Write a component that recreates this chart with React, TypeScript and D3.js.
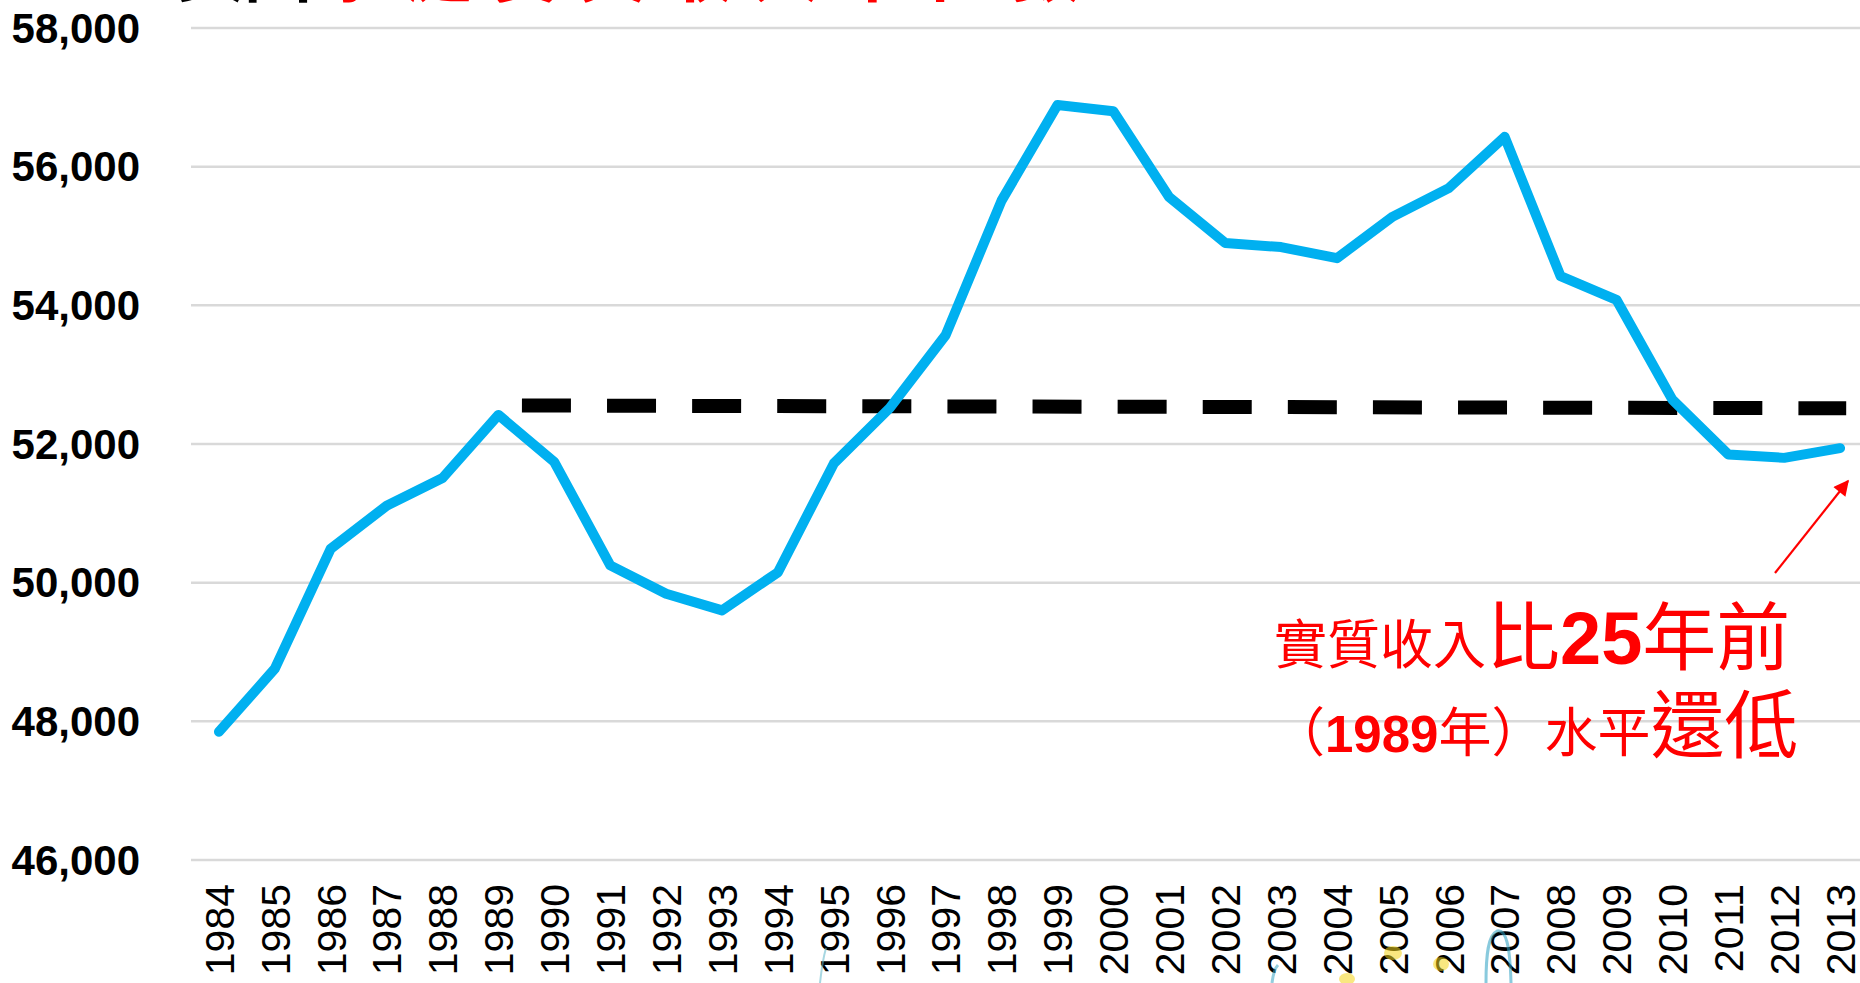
import React from 'react'
import * as d3 from 'd3'

// median household income, 1984-2013
const years = [
  '1984', '1985', '1986', '1987', '1988', '1989', '1990', '1991', '1992', '1993',
  '1994', '1995', '1996', '1997', '1998', '1999', '2000', '2001', '2002', '2003',
  '2004', '2005', '2006', '2007', '2008', '2009', '2010', '2011', '2012', '2013',
]
const income = [
  47850, 48760, 50490, 51110, 51510, 52420, 51740, 50250, 49840, 49600,
  50150, 51720, 52520, 53570, 55510, 56890, 56800, 55560, 54900, 54840,
  54680, 55280, 55690, 56430, 54420, 54080, 52640, 51850, 51800, 51940,
]
const yTicks = [46000, 48000, 50000, 52000, 54000, 56000, 58000]

// dashed 1989 reference level
const refYears = ['1989', '2013']
const refValues = [52555, 52515]

const W = 1860
const H = 983
const plot = { left: 191, right: 1868, top: 28, bottom: 860 }

const cjk = '"Noto Sans CJK TC", "Noto Sans CJK SC", sans-serif'
const latin = '"Liberation Sans", Arial, sans-serif'
const red = '#ff0000'

const App = () => {
  const x = d3.scaleBand().domain(years).range([plot.left, plot.right])
  const y = d3.scaleLinear().domain([46000, 58000]).range([plot.bottom, plot.top])
  const cx = (d) => x(d) + x.bandwidth() / 2

  const line = d3
    .line()
    .x((d, i) => cx(years[i]))
    .y((d) => y(d))

  // reference starts a bit right of the 1989 point and stops just past 2013
  const refX1 = cx(refYears[0]) + x.bandwidth() * 0.42
  const refX2 = cx(refYears[1]) + x.bandwidth() * 0.11

  return (
    <svg
      width={W}
      height={H}
      style={{ position: 'absolute', left: 0, top: 0, background: '#fff' }}>
      <defs>
        <marker id="arrow" viewBox="0 0 10 10" refX="9" refY="5" markerWidth="9" markerHeight="7" orient="auto">
          <path d="M0,0 L10,5 L0,10 z" fill={red} />
        </marker>
      </defs>

      {/* title, mostly cut off at the top edge */}
      <text y={-4} fontFamily={cjk} fontWeight="bold" fontSize={68}>
        <tspan x={176} fill="#000">美國</tspan>
        <tspan x={318} fill={red} textLength={762} lengthAdjust="spacing">家庭實質收入中位數</tspan>
      </text>
      <text x={1122} y={-8} fontFamily={cjk} fontSize={40} fill="#555">(</text>
      <text x={1824} y={-8} fontFamily={cjk} fontSize={40} fill="#555">)</text>

      {/* grid + y axis */}
      {yTicks.map((t) => (
        <g key={t}>
          <line x1={plot.left} x2={W} y1={y(t)} y2={y(t)} stroke="#d9d9d9" strokeWidth={2.5} />
          <text
            x={140}
            y={y(t)}
            dy="0.35em"
            textAnchor="end"
            fontFamily={latin}
            fontWeight="bold"
            fontSize={42}
            fill="#000">
            {d3.format(',')(t)}
          </text>
        </g>
      ))}

      {/* x labels, rotated */}
      {years.map((yr) => (
        <text
          key={yr}
          transform={`translate(${cx(yr)},${plot.bottom + 24}) rotate(-90)`}
          dy="0.36em"
          textAnchor="end"
          fontFamily={latin}
          fontSize={41}
          fill="#000">
          {yr}
        </text>
      ))}

      {/* faint clip-art remnants at the bottom */}
      <g opacity={0.55}>
        <path d="M820,983 C822,965 824,955 826,948" stroke="#5fb7c9" strokeWidth={2} fill="none" />
        <path d="M1272,983 C1273,975 1275,968 1278,965" stroke="#3aa6c4" strokeWidth={3} fill="none" />
        <ellipse cx={1347} cy={979} rx={8} ry={6} fill="#f5d51a" />
        <ellipse cx={1393} cy={953} rx={9} ry={7} fill="#f5d51a" />
        <ellipse cx={1441} cy={964} rx={8} ry={7} fill="#f5d51a" />
        <path d="M1486,983 C1486,955 1488,935 1497,931 C1506,929 1510,945 1511,983" stroke="#2a9fc3" strokeWidth={3} fill="none" />
      </g>

      {/* dashed 1989 level */}
      <line
        x1={refX1}
        x2={refX2}
        y1={y(refValues[0])}
        y2={y(refValues[1])}
        stroke="#000"
        strokeWidth={14}
        strokeDasharray="49 36.1"
      />

      {/* income line */}
      <path
        d={line(income)}
        fill="none"
        stroke="#00b0f0"
        strokeWidth={10}
        strokeLinejoin="round"
        strokeLinecap="round"
      />

      {/* annotation */}
      <line x1={1775} y1={573} x2={1848} y2={481} stroke={red} strokeWidth={2.2} markerEnd="url(#arrow)" />
      <text x={1274} y={664} fill={red} fontFamily={cjk}>
        <tspan fontSize={53}>實質收入</tspan>
        <tspan fontSize={74}>比</tspan>
        <tspan fontSize={74} fontFamily={latin} fontWeight="bold">25</tspan>
        <tspan fontSize={74}>年前</tspan>
      </text>
      <text x={1272} y={752} fill={red} fontFamily={cjk}>
        <tspan fontSize={53}>（</tspan>
        <tspan fontSize={51} fontFamily={latin} fontWeight="bold">1989</tspan>
        <tspan fontSize={53}>年）水平</tspan>
        <tspan fontSize={74}>還低</tspan>
      </text>
    </svg>
  )
}

export default App
